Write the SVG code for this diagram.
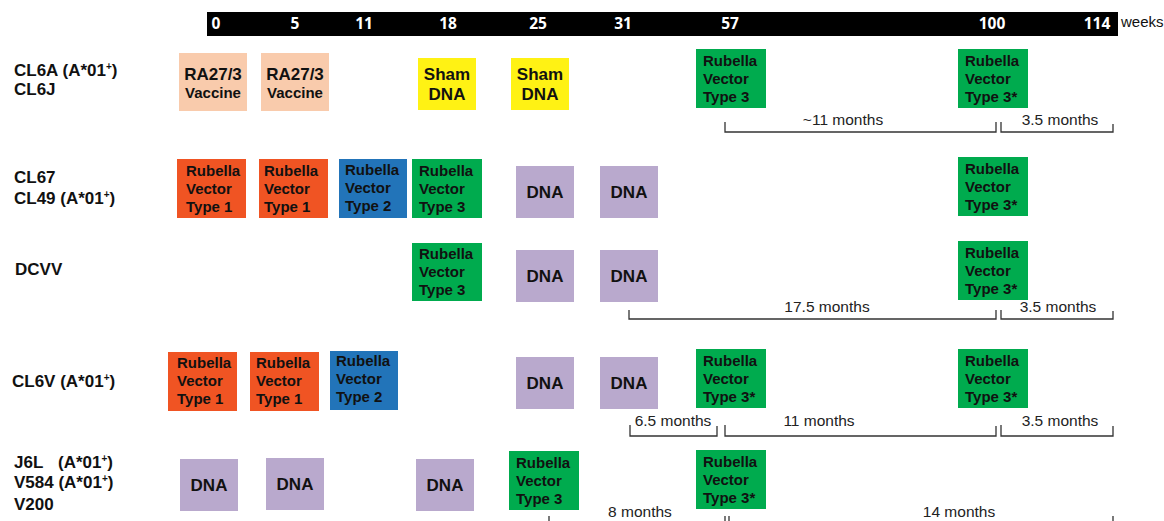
<svg xmlns="http://www.w3.org/2000/svg" width="1164" height="521" viewBox="0 0 1164 521">
<style>
.tl{font-family:"Open Sans","Liberation Sans",sans-serif;font-weight:bold;font-size:15.5px;fill:#fff;text-anchor:middle}
.wk{font-family:"Liberation Sans",Arial,sans-serif;font-size:15px;fill:#111}
.row{font-family:"Liberation Sans",Arial,sans-serif;font-weight:bold;font-size:17px;fill:#111}
.sup{font-size:10px}
.bx{font-family:"Liberation Sans",Arial,sans-serif;font-weight:bold;font-size:15px;fill:#111}
.ctr{text-anchor:middle}
.big{font-size:17px}
.br{fill:none;stroke:#333;stroke-width:1.3}
.bl{font-family:"Liberation Sans",Arial,sans-serif;font-size:15.5px;fill:#222;text-anchor:middle}
.peach{fill:#F9CBAC}.yellow{fill:#FFF214}.green{fill:#00AB4E}.orange{fill:#F05423}.blue{fill:#2274B9}.lav{fill:#B9A9CD}
</style>

<g id="timeline">
<rect x="207" y="12" width="911" height="24" fill="#000"/>
<text class="tl" x="216" y="29">0</text>
<text class="tl" x="295" y="29">5</text>
<text class="tl" x="364" y="29">11</text>
<text class="tl" x="448" y="29">18</text>
<text class="tl" x="538" y="29">25</text>
<text class="tl" x="623" y="29">31</text>
<text class="tl" x="730" y="29">57</text>
<text class="tl" x="992" y="29">100</text>
<text class="tl" x="1097" y="29">114</text>
<text class="wk" x="1121" y="27">weeks</text>
</g>

<g id="row-labels">
<text class="row" x="14" y="76">CL6A (A*01<tspan class="sup" dy="-6">+</tspan><tspan dy="6">)</tspan></text>
<text class="row" x="14" y="95">CL6J</text>
<text class="row" x="14" y="183">CL67</text>
<text class="row" x="14" y="204">CL49 (A*01<tspan class="sup" dy="-6">+</tspan><tspan dy="6">)</tspan></text>
<text class="row" x="15" y="275">DCVV</text>
<text class="row" x="12" y="387">CL6V (A*01<tspan class="sup" dy="-6">+</tspan><tspan dy="6">)</tspan></text>
<text class="row" x="14" y="468">J6L<tspan x="58">(A*01</tspan><tspan class="sup" dy="-6">+</tspan><tspan dy="6">)</tspan></text>
<text class="row" x="14" y="488">V584 (A*01<tspan class="sup" dy="-6">+</tspan><tspan dy="6">)</tspan></text>
<text class="row" x="14" y="510">V200</text>
</g>

<!-- Row 1 -->
<g id="r1-ra1"><rect class="peach" x="179" y="53" width="68" height="58"/><text class="bx ctr big" x="213" y="80">RA27/3</text><text class="bx ctr" x="213" y="98">Vaccine</text></g>
<g id="r1-ra2"><rect class="peach" x="261" y="53" width="68" height="58"/><text class="bx ctr big" x="295" y="80">RA27/3</text><text class="bx ctr" x="295" y="98">Vaccine</text></g>
<g id="r1-sham1"><rect class="yellow" x="418" y="58" width="58" height="52"/><text class="bx ctr big" x="447" y="80">Sham</text><text class="bx ctr big" x="447" y="100">DNA</text></g>
<g id="r1-sham2"><rect class="yellow" x="511" y="58" width="58" height="52"/><text class="bx ctr big" x="540" y="80">Sham</text><text class="bx ctr big" x="540" y="100">DNA</text></g>
<g id="r1-g57"><rect class="green" x="696" y="49" width="70" height="59"/><text class="bx" x="703" y="66">Rubella<tspan x="703" dy="18">Vector</tspan><tspan x="703" dy="18">Type 3</tspan></text></g>
<g id="r1-g100"><rect class="green" x="958" y="49" width="70" height="59"/><text class="bx" x="965" y="66">Rubella<tspan x="965" dy="18">Vector</tspan><tspan x="965" dy="18">Type 3*</tspan></text></g>

<!-- Row 2 -->
<g id="r2-o1"><rect class="orange" x="177" y="159" width="69" height="59"/><text class="bx" x="186" y="176">Rubella<tspan x="186" dy="18">Vector</tspan><tspan x="186" dy="18">Type 1</tspan></text></g>
<g id="r2-o2"><rect class="orange" x="259" y="159" width="69" height="59"/><text class="bx" x="264" y="176">Rubella<tspan x="264" dy="18">Vector</tspan><tspan x="264" dy="18">Type 1</tspan></text></g>
<g id="r2-b"><rect class="blue" x="339" y="159" width="68" height="59"/><text class="bx" x="345" y="175">Rubella<tspan x="345" dy="18">Vector</tspan><tspan x="345" dy="18">Type 2</tspan></text></g>
<g id="r2-g"><rect class="green" x="412" y="159" width="70" height="59"/><text class="bx" x="419" y="176">Rubella<tspan x="419" dy="18">Vector</tspan><tspan x="419" dy="18">Type 3</tspan></text></g>
<g id="r2-d1"><rect class="lav" x="516" y="166" width="58" height="52"/><text class="bx ctr big" x="545" y="198">DNA</text></g>
<g id="r2-d2"><rect class="lav" x="600" y="166" width="58" height="52"/><text class="bx ctr big" x="629" y="198">DNA</text></g>
<g id="r2-g100"><rect class="green" x="958" y="157" width="70" height="59"/><text class="bx" x="965" y="174">Rubella<tspan x="965" dy="18">Vector</tspan><tspan x="965" dy="18">Type 3*</tspan></text></g>

<!-- Row 3 -->
<g id="r3-g"><rect class="green" x="412" y="243" width="70" height="58"/><text class="bx" x="419" y="259">Rubella<tspan x="419" dy="18">Vector</tspan><tspan x="419" dy="18">Type 3</tspan></text></g>
<g id="r3-d1"><rect class="lav" x="516" y="250" width="58" height="52"/><text class="bx ctr big" x="545" y="282">DNA</text></g>
<g id="r3-d2"><rect class="lav" x="600" y="250" width="58" height="52"/><text class="bx ctr big" x="629" y="282">DNA</text></g>
<g id="r3-g100"><rect class="green" x="958" y="241" width="70" height="59"/><text class="bx" x="965" y="258">Rubella<tspan x="965" dy="18">Vector</tspan><tspan x="965" dy="18">Type 3*</tspan></text></g>

<!-- Row 4 -->
<g id="r4-o1"><rect class="orange" x="168" y="352" width="69" height="59"/><text class="bx" x="177" y="368">Rubella<tspan x="177" dy="18">Vector</tspan><tspan x="177" dy="18">Type 1</tspan></text></g>
<g id="r4-o2"><rect class="orange" x="250" y="352" width="69" height="59"/><text class="bx" x="256" y="368">Rubella<tspan x="256" dy="18">Vector</tspan><tspan x="256" dy="18">Type 1</tspan></text></g>
<g id="r4-b"><rect class="blue" x="330" y="351" width="68" height="59"/><text class="bx" x="336" y="366">Rubella<tspan x="336" dy="18">Vector</tspan><tspan x="336" dy="18">Type 2</tspan></text></g>
<g id="r4-d1"><rect class="lav" x="516" y="357" width="58" height="52"/><text class="bx ctr big" x="545" y="389">DNA</text></g>
<g id="r4-d2"><rect class="lav" x="600" y="357" width="58" height="52"/><text class="bx ctr big" x="629" y="389">DNA</text></g>
<g id="r4-g57"><rect class="green" x="696" y="349" width="70" height="59"/><text class="bx" x="703" y="366">Rubella<tspan x="703" dy="18">Vector</tspan><tspan x="703" dy="18">Type 3*</tspan></text></g>
<g id="r4-g100"><rect class="green" x="958" y="349" width="70" height="59"/><text class="bx" x="965" y="366">Rubella<tspan x="965" dy="18">Vector</tspan><tspan x="965" dy="18">Type 3*</tspan></text></g>

<!-- Row 5 -->
<g id="r5-d1"><rect class="lav" x="180" y="459" width="58" height="52"/><text class="bx ctr big" x="209" y="491">DNA</text></g>
<g id="r5-d2"><rect class="lav" x="266" y="458" width="58" height="52"/><text class="bx ctr big" x="295" y="490">DNA</text></g>
<g id="r5-d3"><rect class="lav" x="416" y="459" width="58" height="52"/><text class="bx ctr big" x="445" y="491">DNA</text></g>
<g id="r5-g"><rect class="green" x="509" y="451" width="70" height="59"/><text class="bx" x="516" y="468">Rubella<tspan x="516" dy="18">Vector</tspan><tspan x="516" dy="18">Type 3</tspan></text></g>
<g id="r5-g57"><rect class="green" x="696" y="450" width="70" height="59"/><text class="bx" x="703" y="467">Rubella<tspan x="703" dy="18">Vector</tspan><tspan x="703" dy="18">Type 3*</tspan></text></g>

<g id="connectors">
<path class="br" d="M725 122V132H996V122"/>
<path class="br" d="M1001 122V132H1113V124"/>
<path class="br" d="M629 310V319H996V310"/>
<path class="br" d="M1001 310V319H1113V311"/>
<path class="br" d="M630 425V436H717V426"/>
<path class="br" d="M725 425V436H996V426"/>
<path class="br" d="M1001 425V436H1113V426"/>
<path class="br" d="M549 516V528H725V516"/>
<path class="br" d="M729 516V528H1113V516"/>
</g>

<g id="bracket-labels">
<text class="bl" x="843" y="125">~11 months</text>
<text class="bl" x="1060" y="125">3.5 months</text>
<text class="bl" x="827" y="312">17.5 months</text>
<text class="bl" x="1058" y="312">3.5 months</text>
<text class="bl" x="673" y="426">6.5 months</text>
<text class="bl" x="819" y="426">11 months</text>
<text class="bl" x="1060" y="426">3.5 months</text>
<text class="bl" x="640" y="517">8 months</text>
<text class="bl" x="959" y="517">14 months</text>
</g>
</svg>
